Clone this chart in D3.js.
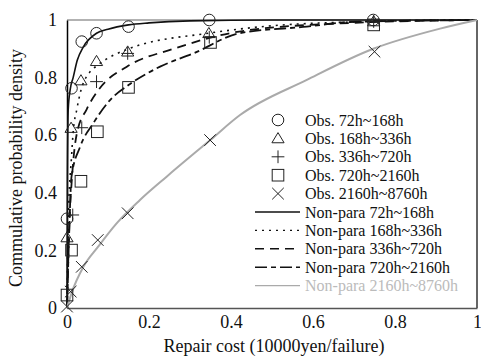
<!DOCTYPE html>
<html>
<head>
<meta charset="utf-8">
<script src="https://cdn.jsdelivr.net/npm/d3@7"></script>
</head>
<body style="margin:0;background:#fff">
<svg width="481" height="358"></svg>
<script>
// observed points
const obs72x = [0, 0.011, 0.036, 0.072, 0.15, 0.347, 0.747];
const obs72y = [0.31, 0.763, 0.925, 0.954, 0.977, 1.0, 1.0];
const obs168x = [0, 0.01, 0.034, 0.072, 0.148, 0.346, 0.748];
const obs168y = [0.245, 0.625, 0.79, 0.857, 0.89, 0.954, 0.995];
const obs336x = [0.014, 0.036, 0.072, 0.148, 0.347, 0.748];
const obs336y = [0.323, 0.626, 0.786, 0.884, 0.94, 0.995];
const obs720x = [0, 0.011, 0.034, 0.074, 0.15, 0.35, 0.748];
const obs720y = [0.045, 0.201, 0.44, 0.612, 0.766, 0.922, 0.983];
const obs2160x = [0, 0.009, 0.036, 0.075, 0.148, 0.349, 0.75];
const obs2160y = [0.005, 0.057, 0.143, 0.236, 0.329, 0.583, 0.89];

// non-parametric curves
const np72x = [0, 0.001, 0.003, 0.008, 0.015, 0.025, 0.04, 0.072, 0.1, 0.15, 0.2, 0.3, 0.5, 1];
const np72y = [0, 0.45, 0.69, 0.76, 0.8, 0.86, 0.907, 0.954, 0.968, 0.983, 0.99, 0.997, 1, 1];
const np168x = [0, 0.003, 0.011, 0.015, 0.024, 0.032, 0.056, 0.072, 0.15, 0.35, 0.5, 0.75, 1];
const np168y = [0, 0.3, 0.525, 0.61, 0.69, 0.745, 0.82, 0.84, 0.9, 0.955, 0.98, 0.995, 1];
const np336x = [0, 0.006, 0.012, 0.024, 0.048, 0.08, 0.146, 0.26, 0.42, 0.666, 1];
const np336y = [0, 0.3, 0.45, 0.606, 0.69, 0.763, 0.838, 0.9, 0.96, 0.988, 1];
const np720x = [0, 0.004, 0.011, 0.032, 0.064, 0.105, 0.15, 0.227, 0.31, 0.42, 0.585, 0.69, 1];
const np720y = [0, 0.2, 0.456, 0.56, 0.641, 0.722, 0.774, 0.838, 0.885, 0.954, 0.977, 0.993, 1];
const np2160x = [0, 0.011, 0.04, 0.076, 0.121, 0.178, 0.243, 0.35, 0.422, 0.585, 0.747, 0.91, 1];
const np2160y = [0, 0.051, 0.143, 0.213, 0.294, 0.375, 0.456, 0.584, 0.67, 0.792, 0.9, 0.97, 1];

const xTicks = [0, 0.2, 0.4, 0.6, 0.8, 1];
const yTicks = [0, 0.2, 0.4, 0.6, 0.8, 1];

const obsLabels = ["Obs. 72h~168h", "Obs. 168h~336h", "Obs. 336h~720h", "Obs. 720h~2160h", "Obs. 2160h~8760h"];
const npLabels = ["Non-para 72h~168h", "Non-para 168h~336h", "Non-para 336h~720h", "Non-para 720h~2160h", "Non-para 2160h~8760h"];

const FONT = "Liberation Serif";
const svg = d3.select("svg");
const mLeft = 67, mRight = 477, mTop = 20, mBottom = 308;

const xScale = d3.scaleLinear().domain([0, 1]).range([mLeft, mRight]);
const yScale = d3.scaleLinear().domain([0, 1]).range([mBottom, mTop]);

// frame
svg.append("line").attr("x1", mLeft).attr("x2", mRight).attr("y1", mTop).attr("y2", mTop)
  .attr("stroke", "#999").attr("stroke-width", 1.5);
svg.append("line").attr("x1", mRight).attr("x2", mRight).attr("y1", mTop).attr("y2", mBottom)
  .attr("stroke", "#333").attr("stroke-width", 1.5);

// axes
const xAxis = svg.append("g")
  .attr("transform", "translate(0," + mBottom + ")")
  .call(d3.axisBottom(xScale).tickValues(xTicks).tickSize(0).tickPadding(7).tickFormat(d3.format("")));
xAxis.select(".domain").attr("stroke", "#555").attr("stroke-width", 1.5);
xAxis.selectAll("text").style("font-family", FONT).style("font-size", "18px").attr("fill", "#111");

const yAxis = svg.append("g")
  .attr("transform", "translate(" + mLeft + ",0)")
  .call(d3.axisLeft(yScale).tickValues(yTicks).tickSize(0).tickPadding(10).tickFormat(d3.format("")));
yAxis.select(".domain").attr("stroke", "#000").attr("stroke-width", 1.5);
yAxis.selectAll("text").style("font-family", FONT).style("font-size", "18px").attr("fill", "#111");

svg.append("text").attr("x", (mLeft + mRight) / 2 + 2).attr("y", 352)
  .attr("text-anchor", "middle").style("font-family", FONT).style("font-size", "18px").attr("fill", "#111")
  .text("Repair cost (10000yen/failure)");
svg.append("text")
  .attr("transform", "translate(22," + ((mTop + mBottom) / 2 + 4) + ") rotate(-90)")
  .attr("text-anchor", "middle").style("font-family", FONT).style("font-size", "18px").attr("fill", "#111")
  .text("Commulative probability density");

// curves
const line = d3.line().x(d => xScale(d[0])).y(d => yScale(d[1])).curve(d3.curveMonotoneX);
const curves = [
  { x: np72x, y: np72y, color: "#111", dash: null, w: 1.6 },
  { x: np168x, y: np168y, color: "#111", dash: "2,5", w: 1.6 },
  { x: np336x, y: np336y, color: "#111", dash: "9,6", w: 1.8 },
  { x: np720x, y: np720y, color: "#111", dash: "12,4,5,4", w: 1.8 },
  { x: np2160x, y: np2160y, color: "#aaa", dash: null, w: 2 }
];
curves.forEach(c => {
  svg.append("path")
    .datum(c.x.map((v, i) => [v, c.y[i]]))
    .attr("d", line)
    .attr("fill", "none")
    .attr("stroke", c.color)
    .attr("stroke-width", c.w)
    .attr("stroke-dasharray", c.dash);
});

// markers
function marker(g, type, x, y) {
  const s = 5.8;
  if (type === 0) {
    g.append("circle").attr("cx", x).attr("cy", y).attr("r", s)
      .attr("fill", "none").attr("stroke", "#222").attr("stroke-width", 1);
  } else if (type === 1) {
    g.append("path").attr("d", `M${x},${y - s} L${x + s * 1.05},${y + s * 0.75} L${x - s * 1.05},${y + s * 0.75} Z`)
      .attr("fill", "none").attr("stroke", "#222").attr("stroke-width", 1);
  } else if (type === 2) {
    g.append("path").attr("d", `M${x - s * 1.1},${y} H${x + s * 1.1} M${x},${y - s * 1.1} V${y + s * 1.1}`)
      .attr("fill", "none").attr("stroke", "#222").attr("stroke-width", 1);
  } else if (type === 3) {
    g.append("rect").attr("x", x - s).attr("y", y - s).attr("width", 2 * s).attr("height", 2 * s)
      .attr("fill", "none").attr("stroke", "#222").attr("stroke-width", 1);
  } else {
    g.append("path").attr("d", `M${x - s},${y - s} L${x + s},${y + s} M${x + s},${y - s} L${x - s},${y + s}`)
      .attr("fill", "none").attr("stroke", "#222").attr("stroke-width", 1);
  }
}

const obsSets = [[obs72x, obs72y], [obs168x, obs168y], [obs336x, obs336y], [obs720x, obs720y], [obs2160x, obs2160y]];
const mg = svg.append("g");
obsSets.forEach((s, t) => {
  s[0].forEach((v, i) => marker(mg, t, xScale(v), yScale(s[1][i])));
});

// legend
const lg = svg.append("g");
const rowY = i => 120 + i * 18.4;
obsLabels.forEach((lab, i) => {
  marker(lg, i, 278, rowY(i));
  lg.append("text").attr("x", 305).attr("y", rowY(i) + 5.5)
    .style("font-family", FONT).style("font-size", "16px").attr("fill", "#111").text(lab);
});
npLabels.forEach((lab, i) => {
  const y = rowY(i + 5);
  const c = curves[i];
  lg.append("line").attr("x1", 255).attr("x2", 300).attr("y1", y).attr("y2", y)
    .attr("stroke", c.color).attr("stroke-width", i === 4 ? 1.2 : 1.4).attr("stroke-dasharray", c.dash);
  lg.append("text").attr("x", 305).attr("y", y + 5.5)
    .style("font-family", FONT).style("font-size", "16px")
    .attr("fill", i === 4 ? "#bbb" : "#111").text(lab);
});
</script>
</body>
</html>
